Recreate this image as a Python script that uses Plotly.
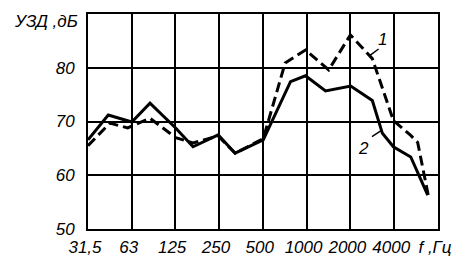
import plotly.graph_objects as go
import numpy as np

# Frequencies (Hz) of the polyline vertices and levels (dB)
freq_1 = [31.5, 44.5, 59, 84, 126, 166, 247, 323, 504, 713, 983, 1420, 2000, 2830, 3950, 5200, 5800, 6900]
level_1 = [65.5, 69.7, 68.8, 70.6, 67.0, 66.0, 67.3, 64.1, 66.8, 80.9, 83.3, 79.6, 86.1, 81.7, 70.2, 67.4, 66.1, 55.9]

freq_2 = [31.5, 43.4, 63, 84, 126, 166, 247, 323, 504, 776, 983, 1350, 2010, 2830, 3320, 3950, 5200, 6800]
level_2 = [66.6, 71.2, 69.9, 73.4, 68.8, 65.3, 67.5, 64.1, 66.6, 77.4, 78.5, 75.7, 76.6, 73.9, 67.8, 65.3, 63.4, 56.3]

x_ticks = [31.5, 63, 125, 250, 500, 1000, 2000, 4000, 8000]
x_labels = ["31,5", "63", "125", "250", "500", "1000", "2000", "4000", "f ,Гц"]
y_ticks = [50, 60, 70, 80]
y_labels = ["50", "60", "70", "80"]
y_title = "УЗД ,дБ"

FONT = "Liberation Sans, Arial, sans-serif"

fig = go.Figure()
fig.add_trace(go.Scatter(x=freq_1, y=level_1, mode="lines",
                         line=dict(color="black", width=3, dash="10px,5px"),
                         cliponaxis=False, showlegend=False))
fig.add_trace(go.Scatter(x=freq_2, y=level_2, mode="lines",
                         line=dict(color="black", width=3),
                         cliponaxis=False, showlegend=False))

# curve labels with leader lines
fig.add_annotation(x=np.log10(2700), y=82.2, ax=np.log10(3200), ay=83.7,
                   xref="x", yref="y", axref="x", ayref="y",
                   showarrow=True, arrowhead=0, arrowwidth=1.5, arrowcolor="black", text="")
fig.add_annotation(x=np.log10(3350), y=85.3, text="1", showarrow=False,
                   font=dict(family=FONT, size=17, style="italic", color="black"))
fig.add_annotation(x=np.log10(3250), y=68.3, ax=np.log10(2750), ay=67.0,
                   xref="x", yref="y", axref="x", ayref="y",
                   showarrow=True, arrowhead=0, arrowwidth=1.5, arrowcolor="black", text="")
fig.add_annotation(x=np.log10(2450), y=65.0, text="2", showarrow=False,
                   font=dict(family=FONT, size=17, style="italic", color="black"))

# y axis title at top-left
fig.add_annotation(x=0, y=90, xref="paper", yref="y", xanchor="right", yanchor="middle",
                   xshift=-8, yshift=-7, text=y_title, showarrow=False,
                   font=dict(family=FONT, size=17, style="italic", color="black"))

fig.update_layout(
    width=466, height=271,
    margin=dict(l=88, r=28, t=12, b=42),
    plot_bgcolor="white", paper_bgcolor="white",
    font=dict(family=FONT, size=17, color="black"),
)
fig.update_xaxes(type="log", range=[np.log10(31.5), np.log10(8000)],
                 tickvals=x_ticks, ticktext=x_labels, ticks="",
                 tickfont=dict(family=FONT, size=17, style="italic"),
                 showgrid=True, gridcolor="black", gridwidth=2,
                 showline=True, linecolor="black", linewidth=2, mirror=True,
                 zeroline=False, ticklabelshift=-3, ticklabelstandoff=2)
fig.update_yaxes(range=[50, 90], tickvals=y_ticks, ticktext=y_labels, ticks="",
                 tickfont=dict(family=FONT, size=17, style="italic"),
                 showgrid=True, gridcolor="black", gridwidth=2,
                 showline=True, linecolor="black", linewidth=2, mirror=True,
                 zeroline=False, ticklabelstandoff=8)

fig.write_html("out.html")
